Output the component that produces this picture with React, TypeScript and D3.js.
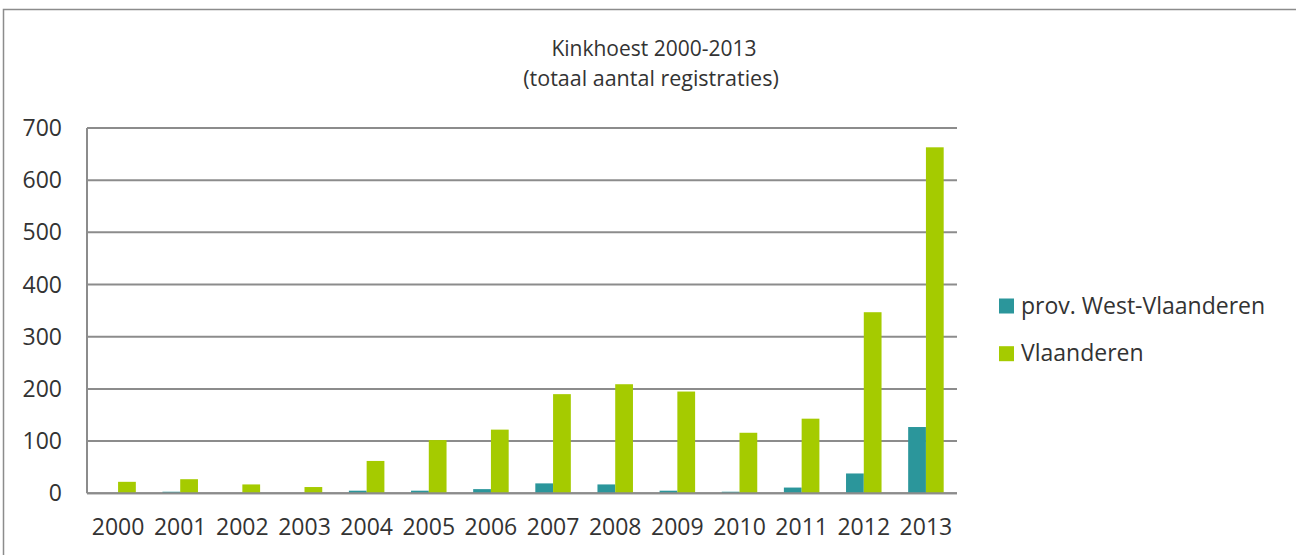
import React from "react";
import * as d3 from "d3";

const years = ["2000","2001","2002","2003","2004","2005","2006","2007","2008","2009","2010","2011","2012","2013"];
const westVlaanderen = [0, 3, 0, 0, 5, 5, 8, 19, 17, 5, 3, 11, 38, 127];
const vlaanderen = [22, 27, 17, 12, 62, 102, 122, 190, 209, 195, 116, 143, 347, 663];
const seriesNames = ["prov. West-Vlaanderen", "Vlaanderen"];
const seriesColors = ["#2B969B", "#A5CB00"];
const yTicks = [0, 100, 200, 300, 400, 500, 600, 700];

const W = 1296, H = 555;
const left = 87, right = 957, top = 128, bottom = 493.3;
const font = "'Open Sans', sans-serif";
const textColor = "#333333";
const gridColor = "#8C8C8C";

export default function App() {
  const x = d3.scaleBand<string>().domain(years).range([left, right]).paddingInner(0).paddingOuter(0);
  const y = d3.scaleLinear().domain([0, 700]).range([bottom, top]);
  const bw = x.bandwidth();
  const barW = bw / 3.5;
  const series = [westVlaanderen, vlaanderen];

  return (
    <svg width={W} height={H} style={{ position: "absolute", left: 0, top: 0 }}>
      <rect x={0} y={0} width={W} height={H} fill="#fff" />
      <path d={`M3.5,${H} V9.5 H${W}`} fill="none" stroke={gridColor} strokeWidth={1.5} />
      <text x={654} y={56} textAnchor="middle" fontFamily={font} fontSize={21} fill={textColor}>Kinkhoest 2000-2013</text>
      <text x={651} y={85.5} textAnchor="middle" fontFamily={font} fontSize={21.5} fill={textColor}>(totaal aantal registraties)</text>
      {yTicks.map((t) => (
        <g key={t}>
          <line x1={left} x2={right} y1={y(t)} y2={y(t)} stroke={gridColor} strokeWidth={2} />
          <text x={62} y={y(t) + 8} textAnchor="end" fontFamily={font} fontSize={23} fill={textColor}>{t}</text>
        </g>
      ))}
      <line x1={left} x2={left} y1={top} y2={bottom} stroke={gridColor} strokeWidth={2} />
      {series.map((vals, si) =>
        vals.map((v, i) => {
          const cx = (x(years[i]) as number) + bw / 2;
          const bx = cx - barW + si * barW;
          return (
            <rect key={`${si}-${i}`} x={bx} y={y(v)} width={barW} height={bottom - y(v)} fill={seriesColors[si]} />
          );
        })
      )}
      <line x1={left} x2={right} y1={bottom} y2={bottom} stroke={gridColor} strokeWidth={2} />
      {years.map((yr) => (
        <text key={yr} x={(x(yr) as number) + bw / 2} y={535} textAnchor="middle" fontFamily={font} fontSize={23} fill={textColor}>{yr}</text>
      ))}
      {seriesNames.map((n, i) => (
        <g key={n}>
          <rect x={999} y={298.5 + i * 47.7} width={15} height={15} fill={seriesColors[i]} />
          <text x={1021} y={313.5 + i * 47.7} fontFamily={font} fontSize={23} fill={textColor}>{n}</text>
        </g>
      ))}
    </svg>
  );
}
